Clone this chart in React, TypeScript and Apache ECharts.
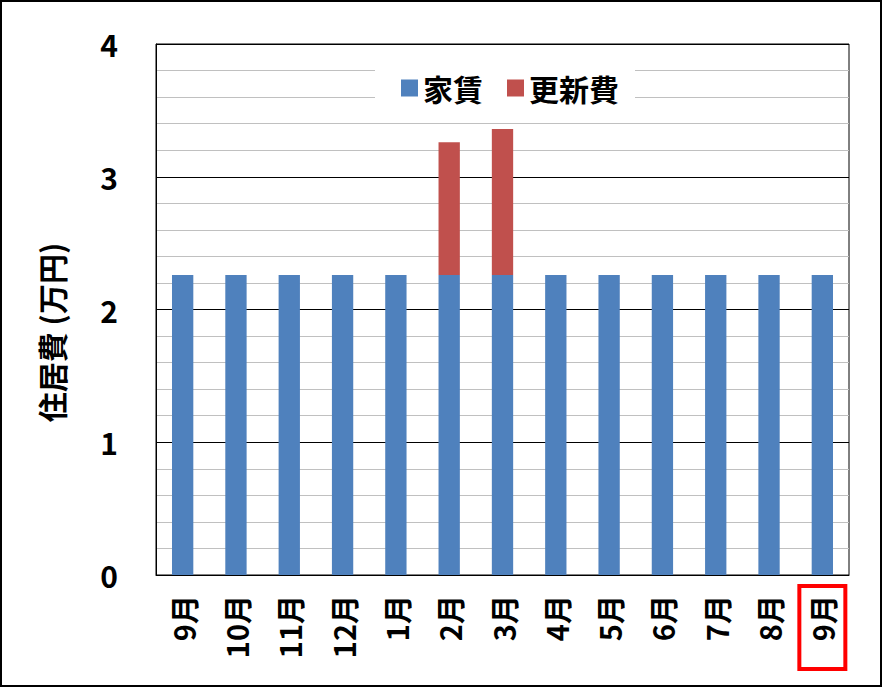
import React, { useEffect, useRef } from "react";
import * as echarts from "echarts";

const categories = ["9月", "10月", "11月", "12月", "1月", "2月", "3月", "4月", "5月", "6月", "7月", "8月", "9月"];
const rent = [2.26, 2.26, 2.26, 2.26, 2.26, 2.26, 2.26, 2.26, 2.26, 2.26, 2.26, 2.26, 2.26];
const renewal = [0, 0, 0, 0, 0, 1.0, 1.1, 0, 0, 0, 0, 0, 0];
const seriesNames = ["家賃", "更新費"];
const yAxisName = "住居費 (万円)";
const highlightIndex = 12;

const FONT = "'Noto Sans CJK JP', 'Noto Sans', sans-serif";

export default function App() {
  const ref = useRef<HTMLDivElement>(null);
  useEffect(() => {
    document.body.style.margin = "0";
    const chart = echarts.init(ref.current!, null, { renderer: "svg" });
    chart.setOption({
      animation: false,
      backgroundColor: "#fff",
      textStyle: { fontFamily: FONT },
      grid: {
        left: 156,
        right: 33,
        top: 44,
        bottom: 112,
        show: true,
        borderColor: "#000",
        borderWidth: 1,
        backgroundColor: "transparent",
      },
      legend: {
        data: seriesNames,
        left: 375,
        top: 63,
        backgroundColor: "#fff",
        padding: [10, 16, 10, 26],
        itemWidth: 17,
        itemHeight: 17,
        itemGap: 24,
        icon: "rect",
        textStyle: { fontSize: 30, fontWeight: "bold", color: "#000", fontFamily: FONT },
      },
      xAxis: {
        type: "category",
        data: categories,
        axisLine: { show: true, lineStyle: { color: "#000" } },
        axisTick: { show: false },
        axisLabel: {
          rotate: 90,
          margin: 20,
          fontSize: 29,
          fontWeight: "bold",
          color: "#000",
          fontFamily: FONT,
          interval: 0,
        },
      },
      yAxis: {
        type: "value",
        min: 0,
        max: 4,
        interval: 1,
        name: yAxisName,
        nameLocation: "middle",
        nameRotate: 90,
        nameGap: 90,
        nameTextStyle: {
          fontSize: 30,
          fontWeight: "bold",
          color: "#000",
          fontFamily: FONT,
          padding: [0, 46, 0, 0],
        },
        axisLine: { show: true, lineStyle: { color: "#000" } },
        axisTick: { show: false },
        axisLabel: { fontSize: 30, fontWeight: "bold", color: "#000", margin: 38, fontFamily: FONT },
        splitLine: { show: true, lineStyle: { color: "#000", width: 1 } },
        minorTick: { show: false, splitNumber: 5 },
        minorSplitLine: { show: true, lineStyle: { color: "#c0c0c0", width: 1 } },
      },
      series: [
        {
          name: seriesNames[0],
          type: "bar",
          stack: "total",
          data: rent,
          barWidth: "40%",
          itemStyle: { color: "#4F81BD" },
        },
        {
          name: seriesNames[1],
          type: "bar",
          stack: "total",
          data: renewal,
          barWidth: "40%",
          itemStyle: { color: "#C0504D" },
        },
      ],
    });
    const p = chart.convertToPixel({ xAxisIndex: 0 }, highlightIndex) as number;
    chart.setOption({
      graphic: [
        {
          type: "rect",
          shape: { x: p - 23, y: 586, width: 46, height: 83 },
          style: { fill: "none", stroke: "#ff0000", lineWidth: 4 },
          z: 100,
        },
      ],
    });
    return () => chart.dispose();
  }, []);
  return (
    <div
      style={{
        width: 882,
        height: 687,
        boxSizing: "border-box",
        border: "2px solid #000",
        position: "relative",
        overflow: "hidden",
      }}
    >
      <div ref={ref} style={{ position: "absolute", left: -2, top: -2, width: 882, height: 687 }} />
    </div>
  );
}
